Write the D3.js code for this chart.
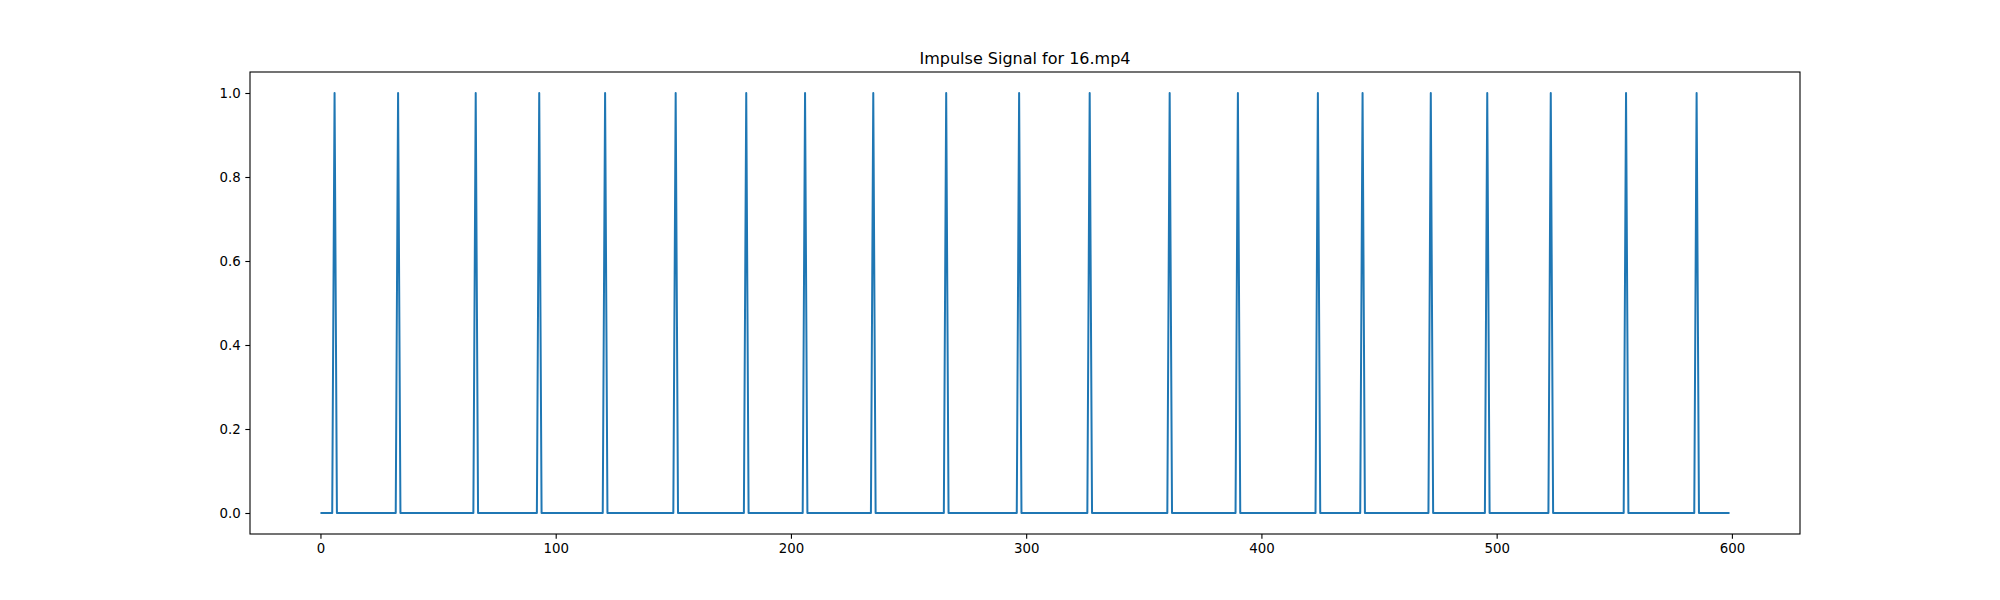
<!DOCTYPE html>
<html>
<head>
<meta charset="utf-8">
<script src="https://cdn.jsdelivr.net/npm/d3@7"></script>
<style>
  html, body { margin: 0; padding: 0; background: #fff; }
  svg { display: block; }
  text { font-family: "DejaVu Sans", sans-serif; fill: #000; }
</style>
</head>
<body>
<svg id="chart" width="2000" height="600"></svg>
<script>
// Data: frame count and frames at which an impulse (value 1) occurs
const numFrames = 600;
const impulseFrames = [6, 33, 66, 93, 121, 151, 181, 206, 235, 266, 297, 327, 361, 390, 424, 443, 472, 496, 523, 555, 585];
const xTicks = [0, 100, 200, 300, 400, 500, 600];
const yTicks = [0.0, 0.2, 0.4, 0.6, 0.8, 1.0];
const titleText = "Impulse Signal for 16.mp4";

(function () {
  const impulseSet = new Set(impulseFrames);
  const signal = d3.range(numFrames).map(i => ({ x: i, y: impulseSet.has(i) ? 1 : 0 }));

  const mLeft = 250, mRight = 1800, mTop = 72, mBottom = 534;

  const xMin = 0, xMax = numFrames - 1;
  const xPad = (xMax - xMin) * 0.05;
  const x = d3.scaleLinear().domain([xMin - xPad, xMax + xPad]).range([mLeft, mRight]);
  const y = d3.scaleLinear().domain([-0.05, 1.05]).range([mBottom, mTop]);

  const svg = d3.select("#chart");

  const line = d3.line().x(d => x(d.x)).y(d => y(d.y));
  svg.append("path")
    .datum(signal)
    .attr("d", line)
    .attr("fill", "none")
    .attr("stroke", "#1f77b4")
    .attr("stroke-width", 2)
    .attr("stroke-linejoin", "round")
    .attr("stroke-linecap", "butt");

  const tickLen = 4.67;
  const xAxis = d3.axisBottom(x).tickValues(xTicks).tickFormat(d3.format("d")).tickSizeInner(tickLen).tickSizeOuter(0).tickPadding(4.67);
  const yAxis = d3.axisLeft(y).tickValues(yTicks).tickFormat(d3.format(".1f")).tickSizeInner(tickLen).tickSizeOuter(0).tickPadding(4.67);

  const gx = svg.append("g").attr("transform", `translate(0,${mBottom})`).call(xAxis);
  const gy = svg.append("g").attr("transform", `translate(${mLeft},0)`).call(yAxis);
  [gx, gy].forEach(g => {
    g.select(".domain").remove();
    g.selectAll(".tick line").attr("stroke", "#000").attr("stroke-width", 1.1);
    g.selectAll(".tick text").attr("font-size", "13.33px").attr("font-family", "DejaVu Sans, sans-serif").attr("fill", "#000");
  });

  svg.append("rect")
    .attr("x", mLeft).attr("y", mTop)
    .attr("width", mRight - mLeft).attr("height", mBottom - mTop)
    .attr("fill", "none").attr("stroke", "#000").attr("stroke-width", 1.1);

  svg.append("text")
    .attr("x", (mLeft + mRight) / 2)
    .attr("y", mTop - 8)
    .attr("text-anchor", "middle")
    .attr("font-size", "16px")
    .text(titleText);
})();
</script>
</body>
</html>
